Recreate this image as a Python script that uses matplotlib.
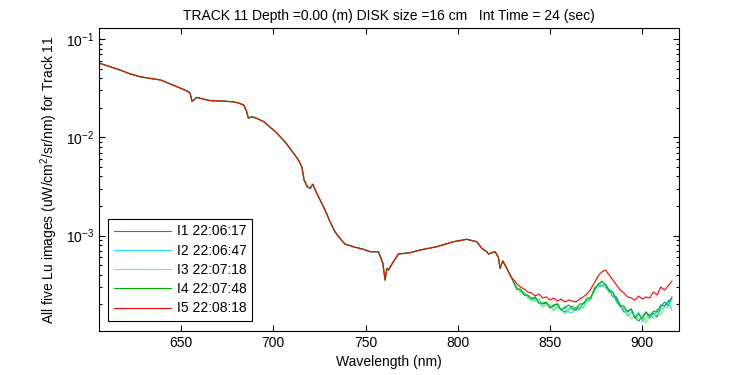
import matplotlib.pyplot as plt
import numpy as np
from matplotlib.ticker import LogLocator, NullLocator, NullFormatter

# shared part of the five spectra (nm, Lu in 1e-4 uW/cm2/sr/nm)
wl_base = [606, 612, 617, 622, 628, 633, 639, 644, 650, 654, 655, 656, 657, 658.5,
           662, 666, 672, 678, 681, 684, 685.5, 686.5, 688.5, 691, 695, 698, 701,
           704.6, 707, 709, 712, 713.6, 715.5, 716.7, 718.5, 720, 721.4, 723.2,
           725.4, 728.1, 730.8, 733.5, 736.2, 738.9, 743.4, 748.8, 752.5, 757,
           759.4, 760.6, 761.6, 762.4, 765.1, 767.8, 774.2, 779.6, 788.6, 797.6,
           804.9, 810.3, 813, 815.7, 816.6, 820.2, 822, 822.9, 824.4, 826.5, 829.3]
lu_base = [566, 520, 484, 445, 413, 398, 383, 350, 315, 291, 280, 232, 240, 255,
           245, 236, 234, 230, 224, 213, 185, 157, 162, 156, 144, 128, 115,
           97.7, 87, 77.3, 65, 58.8, 50.2, 36.8, 31.4, 30.3, 33.3, 28.0,
           23.0, 18.2, 13.8, 10.9, 9.37, 8.20, 7.71, 7.26, 6.86, 6.86,
           5.22, 3.53, 4.65, 4.47, 5.42, 6.50, 6.70, 7.14, 7.71, 8.67,
           9.17, 8.67, 7.43, 6.86, 6.50, 6.86, 6.01, 4.65, 5.52, 4.65, 3.68]

# noisy NIR tail, one list per image
wl_tail = list(range(830, 917, 2))
tail_i1 = [3.37, 2.86, 2.80, 2.49, 2.43, 2.27, 2.32, 2.06, 2.02, 2.06, 1.84, 1.92,
           2.02, 1.75, 1.67, 1.75, 1.92, 1.79, 1.79, 2.06, 2.11, 2.27, 2.93, 3.07,
           3.07, 3.22, 2.80, 2.38, 2.38, 1.97, 1.67, 1.71, 1.79, 1.45, 1.35, 1.52,
           1.67, 1.45, 1.63, 1.49, 1.88, 2.11, 1.92, 2.38]
tail_i2 = [3.45, 2.93, 2.67, 2.67, 2.32, 2.32, 2.16, 2.27, 1.92, 1.97, 1.97, 1.75,
           1.92, 1.75, 1.92, 1.67, 1.63, 1.88, 1.88, 1.84, 2.27, 2.27, 2.73, 3.30,
           3.15, 2.93, 2.86, 2.67, 2.06, 2.02, 1.79, 1.52, 1.67, 1.49, 1.67, 1.32,
           1.45, 1.60, 1.45, 1.79, 1.75, 1.88, 2.21, 1.75]
tail_i3 = [3.37, 3.00, 2.61, 2.61, 2.38, 2.16, 2.27, 2.06, 1.88, 2.02, 1.92, 1.71,
           1.88, 1.75, 1.60, 1.75, 1.88, 1.71, 1.92, 1.88, 2.11, 2.43, 2.61, 3.07,
           3.37, 3.07, 2.61, 2.61, 2.16, 1.84, 1.88, 1.63, 1.42, 1.56, 1.42, 1.52,
           1.29, 1.52, 1.45, 1.71, 1.56, 1.88, 1.84, 2.16]
tail_i4 = [3.45, 2.86, 2.86, 2.49, 2.49, 2.27, 2.38, 2.06, 2.06, 2.11, 1.84, 1.97,
           2.02, 1.75, 1.84, 1.97, 1.79, 1.75, 2.02, 2.02, 2.32, 2.32, 2.86, 3.15,
           3.45, 3.15, 2.73, 2.67, 2.21, 1.92, 1.92, 1.67, 1.79, 1.45, 1.60, 1.42,
           1.67, 1.52, 1.71, 1.67, 1.97, 1.92, 2.11, 2.32]
tail_i5 = [3.62, 3.22, 3.00, 2.86, 2.67, 2.61, 2.43, 2.55, 2.32, 2.38, 2.21, 2.32,
           2.16, 2.27, 2.11, 2.21, 2.16, 2.11, 2.27, 2.38, 2.55, 2.86, 3.30, 3.88,
           4.27, 4.47, 3.98, 3.54, 3.15, 2.80, 2.61, 2.38, 2.32, 2.21, 2.43, 2.27,
           2.38, 2.32, 2.67, 2.49, 3.00, 2.80, 3.07, 3.45]

labels = ['I1 22:06:17', 'I2 22:06:47', 'I3 22:07:18', 'I4 22:07:48', 'I5 22:08:18']
colors = ['#1e78dc', '#20e0f0', '#66ff66', '#00b000', '#ff0000']
tails = [tail_i1, tail_i2, tail_i3, tail_i4, tail_i5]

plt.rcParams['font.family'] = ['Liberation Sans', 'DejaVu Sans']
plt.rcParams['font.size'] = 10
plt.rcParams['mathtext.fontset'] = 'custom'
plt.rcParams['mathtext.rm'] = 'Liberation Sans'

fig = plt.figure(figsize=(7.5, 3.75), dpi=100)
ax = fig.add_axes([0.132, 0.1181, 0.7737, 0.8064])

wl = np.array(wl_base + wl_tail)
for tail, lab, col in zip(tails, labels, colors):
    lu = np.array(lu_base + tail) * 1e-4
    ax.plot(wl, lu, color=col, lw=0.8, label=lab)

ax.set_yscale('log')
ax.set_xlim(605.6, 920)
ax.set_ylim(1.078e-4, 0.1285)
ax.set_xticks([650, 700, 750, 800, 850, 900])
ax.xaxis.set_minor_locator(NullLocator())
ax.yaxis.set_major_locator(LogLocator(base=10))
ax.yaxis.set_minor_locator(LogLocator(base=10, subs=np.arange(2, 10)))
ax.yaxis.set_minor_formatter(NullFormatter())

ax.tick_params(which='both', direction='in', top=True, right=True, width=0.8)
ax.tick_params(which='major', length=4.5, labelsize=10)
ax.tick_params(which='minor', length=2.3)
for s in ax.spines.values():
    s.set_linewidth(0.8)

ax.set_xlabel('Wavelength (nm)', labelpad=4)
ax.set_ylabel('All five Lu images (uW/cm$^2$/sr/nm) for Track 11', labelpad=4)
ax.set_title('TRACK 11 Depth =0.00 (m) DISK size =16 cm   Int Time = 24 (sec)',
             fontsize=10, pad=6)

leg = ax.legend(loc='lower left', bbox_to_anchor=(0.016, 0.032), borderaxespad=0,
                fancybox=False, framealpha=1, edgecolor='black',
                handlelength=4.1, handletextpad=0.45, labelspacing=0.38,
                borderpad=0.4, fontsize=10)
leg.get_frame().set_linewidth(0.8)

fig.savefig('out.png', dpi=100)
